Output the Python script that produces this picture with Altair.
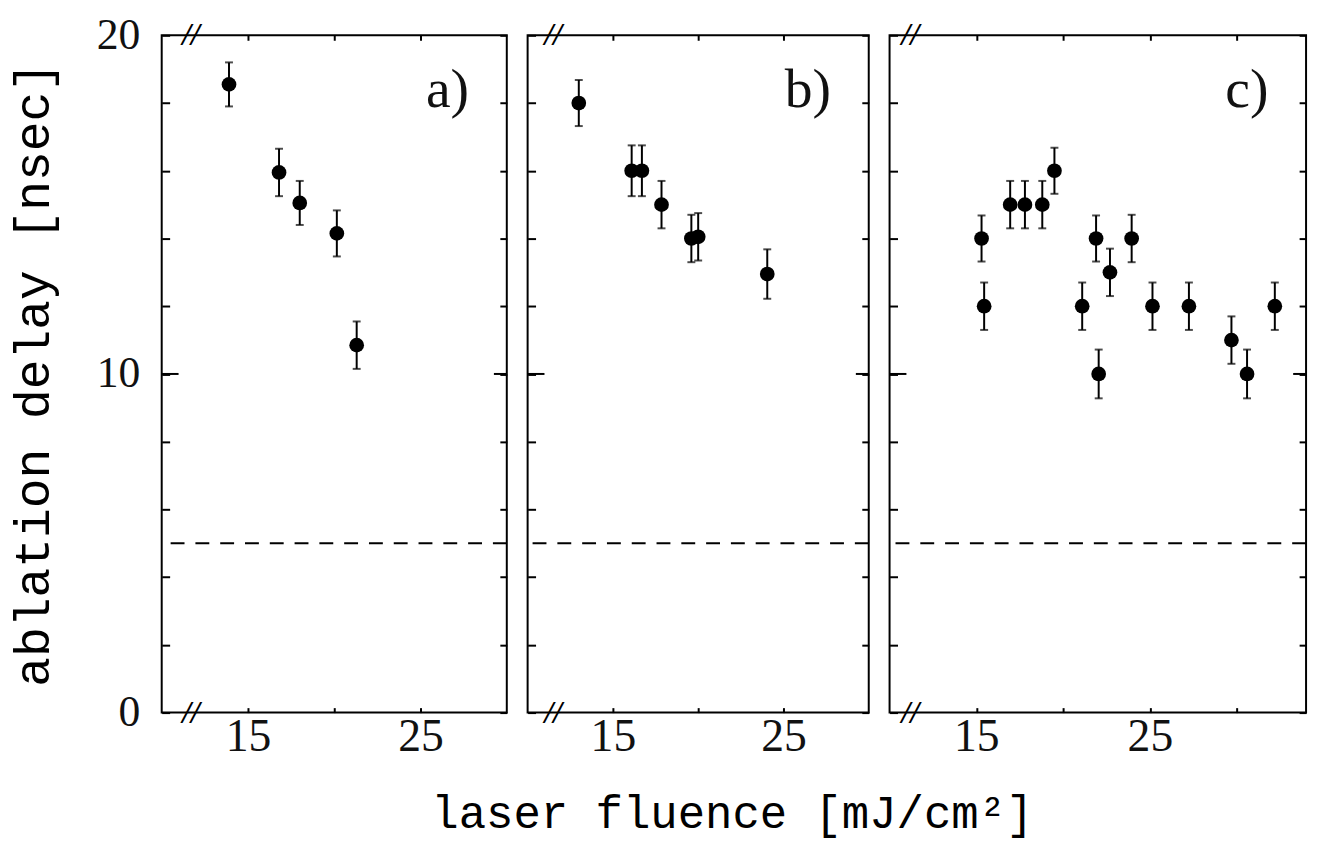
import altair as alt
import pandas as pd

# ---- data ----
a_x = [13.9, 16.8, 18.0, 20.15, 21.3]
a_y = [18.55, 15.95, 15.05, 14.15, 10.85]
a_err = [0.65, 0.7, 0.65, 0.68, 0.7]

b_x = [13.0, 16.1, 16.7, 17.85, 19.6, 20.0, 24.05]
b_y = [18.0, 16.0, 16.0, 15.0, 14.0, 14.05, 12.95]
b_err = [0.68, 0.75, 0.75, 0.7, 0.7, 0.7, 0.73]

c_x = [15.3, 15.45, 16.95, 17.8, 18.8, 19.5, 21.1, 21.9, 22.05, 22.7, 23.95,
       25.15, 27.25, 29.7, 30.6, 32.2]
c_y = [14.0, 12.0, 15.0, 15.0, 15.0, 16.0, 12.0, 14.0, 10.0, 13.0, 14.0,
       12.0, 12.0, 11.0, 10.0, 12.0]
c_err = [0.68, 0.7, 0.7, 0.7, 0.7, 0.68, 0.7, 0.68, 0.72, 0.7, 0.7,
         0.7, 0.7, 0.7, 0.72, 0.7]

panel_labels = ["a)", "b)", "c)"]
x_domains = [[10, 30], [10, 30], [10, 34]]
x_tick_values = [[15, 20, 25], [15, 20, 25], [15, 20, 25, 30]]
x_labelled = [15, 25]
y_tick_values = [0, 2, 4, 6, 8, 10, 12, 14, 16, 18, 20]
y_labelled = [0, 10, 20]
major_y = [10]
threshold = [5]
break_x = [11.7, 11.5, 11.2]
break_y = [0, 20]
widths = [348, 344, 420]
HEIGHT = 683

Y_TITLE = "ablation delay [nsec]"
X_TITLE = "laser fluence [mJ/cm²]"

SERIF = "Liberation Serif"
MONO = "Liberation Mono"


def panel(xs, ys, errs, label, xdom, xticks, brk, width, first):
    df = pd.DataFrame({"x": xs, "y": ys, "err": errs})
    df["lo"] = df["y"] - df["err"]
    df["hi"] = df["y"] + df["err"]
    xs_ = alt.Scale(domain=xdom, nice=False, zero=False)
    ys_ = alt.Scale(domain=[0, 20], nice=False, zero=False)

    xlab_expr = " || ".join(f"datum.value == {v}" for v in x_labelled)
    ylab_expr = " || ".join(f"datum.value == {v}" for v in y_labelled)

    bottom_axis = alt.Axis(orient="bottom", values=xticks, tickSize=5, offset=-5,
                           domain=False, grid=False, labelFont=SERIF, labelFontSize=46,
                           labelColor="#111", labelPadding=2, labelOverlap=False,
                           labelExpr=f"({xlab_expr}) ? datum.label : ''",
                           tickColor="black", tickWidth=2, title=None)
    top_axis = alt.Axis(orient="top", values=xticks, tickSize=5, offset=-5,
                        domain=False, grid=False, labels=False,
                        tickColor="black", tickWidth=2, title=None)
    if first:
        left_axis = alt.Axis(orient="left", values=y_tick_values, tickSize=8, offset=-8,
                             domain=False, grid=False, labelFont=SERIF, labelFontSize=44,
                             labelColor="#111", labelPadding=22, labelOverlap=False,
                             labelExpr=f"({ylab_expr}) ? datum.label : ''",
                             tickColor="black", tickWidth=2,
                             title=Y_TITLE, titleFont=MONO, titleFontSize=50,
                             titleFontWeight="normal", titleColor="black", titlePadding=38)
    else:
        left_axis = alt.Axis(orient="left", values=y_tick_values, tickSize=8, offset=-8,
                             domain=False, grid=False, labels=False,
                             tickColor="black", tickWidth=2, title=None)
    right_axis = alt.Axis(orient="right", values=y_tick_values, tickSize=7, offset=-7,
                          domain=False, grid=False, labels=False,
                          tickColor="black", tickWidth=2, title=None)

    base = alt.Chart(df)
    pts = base.mark_circle(size=220, color="black", opacity=1).encode(
        x=alt.X("x:Q", scale=xs_, axis=bottom_axis),
        y=alt.Y("y:Q", scale=ys_, axis=left_axis),
    )
    bars = base.mark_rule(color="black", strokeWidth=2).encode(
        x=alt.X("x:Q", scale=xs_, axis=top_axis),
        y=alt.Y("lo:Q", scale=ys_, axis=right_axis),
        y2="hi:Q",
    )
    caps = base.transform_fold(["lo", "hi"], as_=["k", "v"]).mark_tick(
        orient="horizontal", size=8, thickness=2, color="black").encode(
        x=alt.X("x:Q", scale=xs_, axis=None),
        y=alt.Y("v:Q", scale=ys_, axis=None),
    )
    dash = alt.Chart(pd.DataFrame({"v": threshold})).mark_rule(
        color="black", strokeWidth=2, strokeDash=[14, 11]).encode(
        y=alt.Y("v:Q", scale=ys_, axis=None))
    maj = pd.DataFrame({"v": major_y})
    maj_l = alt.Chart(maj).mark_rule(color="black", strokeWidth=2).encode(
        y=alt.Y("v:Q", scale=ys_, axis=None), x=alt.value(0), x2=alt.value(17))
    maj_r = alt.Chart(maj).mark_rule(color="black", strokeWidth=2).encode(
        y=alt.Y("v:Q", scale=ys_, axis=None), x=alt.value(width - 13), x2=alt.value(width))
    lab = alt.Chart(pd.DataFrame({"t": [label]})).mark_text(
        align="right", baseline="middle", font=SERIF, fontSize=56, color="#111").encode(
        text="t:N", x=alt.value(width - 38), y=alt.value(55))
    brk_df = pd.DataFrame({"x": [brk] * len(break_y), "y": break_y})
    brks = alt.Chart(brk_df).mark_text(
        text="//", font=SERIF, fontSize=32, fontStyle="italic", fontWeight="bold",
        color="black", baseline="middle", align="center").encode(
        x=alt.X("x:Q", scale=xs_, axis=None), y=alt.Y("y:Q", scale=ys_, axis=None))

    return alt.layer(dash, bars, caps, pts, maj_l, maj_r, lab, brks).resolve_axis(
        x="independent", y="independent").properties(width=width, height=HEIGHT)


pa = panel(a_x, a_y, a_err, panel_labels[0], x_domains[0], x_tick_values[0], break_x[0], widths[0], True)
pb = panel(b_x, b_y, b_err, panel_labels[1], x_domains[1], x_tick_values[1], break_x[1], widths[1], False)
pc = panel(c_x, c_y, c_err, panel_labels[2], x_domains[2], x_tick_values[2], break_x[2], widths[2], False)

chart = alt.hconcat(pa, pb, pc, spacing=17).properties(
    title=alt.TitleParams(X_TITLE, orient="bottom", anchor="middle", font=MONO,
                          fontSize=46, fontWeight="normal", color="black",
                          offset=32, dx=75),
    padding={"left": 0, "top": 1, "right": 5, "bottom": 8},
    background="white",
).configure_view(stroke="black", strokeWidth=2)

chart.save("out.html", embed_options={"renderer": "svg", "actions": False})
